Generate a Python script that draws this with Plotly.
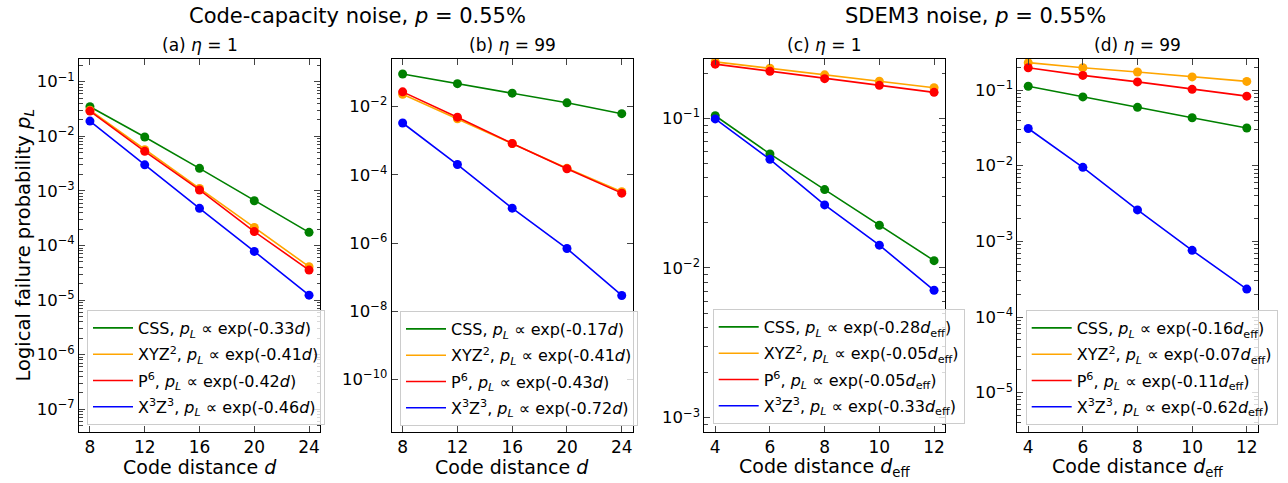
import numpy as np
import plotly.graph_objects as go

W, H = 1288, 483
FONT = "DejaVu Sans"

# ---------------- data ----------------
d_cc = [8, 12, 16, 20, 24]
d_eff = [4, 6, 8, 10, 12]

# (a) code-capacity, eta = 1
a_css = [0.0348, 0.0097, 0.00259, 6.6e-4, 1.74e-4]
a_xyz2 = [0.030, 0.0057, 0.00111, 2.14e-4, 4.1e-5]
a_p6 = [0.029, 0.0053, 0.00104, 1.8e-4, 3.55e-5]
a_x3z3 = [0.019, 0.0030, 4.8e-4, 7.8e-5, 1.23e-5]

# (b) code-capacity, eta = 99
b_css = [0.090, 0.047, 0.0247, 0.0129, 0.0062]
b_xyz2 = [0.023, 0.0044, 8.3e-4, 1.55e-4, 3.2e-5]
b_p6 = [0.027, 0.0049, 8.3e-4, 1.5e-4, 2.9e-5]
b_x3z3 = [0.0033, 2.0e-4, 1.05e-5, 6.9e-7, 2.9e-8]

# (c) SDEM3, eta = 1
c_css = [0.104, 0.0578, 0.0334, 0.0193, 0.0112]
c_xyz2 = [0.238, 0.216, 0.195, 0.177, 0.160]
c_p6 = [0.230, 0.206, 0.184, 0.166, 0.149]
c_x3z3 = [0.099, 0.0532, 0.0264, 0.0142, 0.0071]

# (d) SDEM3, eta = 99
d_css = [0.112, 0.081, 0.059, 0.043, 0.0315]
d_xyz2 = [0.230, 0.197, 0.173, 0.149, 0.130]
d_p6 = [0.197, 0.156, 0.128, 0.102, 0.083]
d_x3z3 = [0.031, 0.0095, 0.0026, 7.6e-4, 2.34e-4]

code_names = ["CSS", "XYZ<sup>2</sup>", "P<sup>6</sup>", "X<sup>3</sup>Z<sup>3</sup>"]
colors = ["green", "orange", "red", "blue"]

a_rates = ["-0.33", "-0.41", "-0.42", "-0.46"]
b_rates = ["-0.17", "-0.41", "-0.43", "-0.72"]
c_rates = ["-0.28", "-0.05", "-0.05", "-0.33"]
d_rates = ["-0.16", "-0.07", "-0.11", "-0.62"]

panel_titles = ["(a) <i>η</i> = 1", "(b) <i>η</i> = 99", "(c) <i>η</i> = 1", "(d) <i>η</i> = 99"]
sup_titles = ["Code-capacity noise, <i>p</i> = 0.55%", "SDEM3 noise, <i>p</i> = 0.55%"]
x_titles = ["Code distance <i>d</i>", "Code distance <i>d</i>",
            "Code distance <i>d</i><sub>eff</sub>", "Code distance <i>d</i><sub>eff</sub>"]
y_title = "Logical failure probability <i>p</i><sub><i>L</i></sub>"

# ---------------- layout geometry (pixels) ----------------
x_px = [(79, 320), (391.7, 632.7), (704.3, 945), (1017.3, 1257.7)]
y_px = (59, 432)
y_log_ranges = [(-7.416, -0.584), (-11.54, -0.605), (-3.0955, -0.604), (-5.52, -0.59)]
x_ranges = [(7.2, 24.8), (7.2, 24.8), (3.6, 12.4), (3.6, 12.4)]
y_major = [list(range(-7, 0)), list(range(-10, -1, 2)), [-3, -2, -1], list(range(-5, 0))]
legend_px = [(87, 310), (400, 311), (712.7, 309), (1025.7, 310)]

panels = [
    (d_cc, [a_css, a_xyz2, a_p6, a_x3z3], a_rates, "<i>d</i>"),
    (d_cc, [b_css, b_xyz2, b_p6, b_x3z3], b_rates, "<i>d</i>"),
    (d_eff, [c_css, c_xyz2, c_p6, c_x3z3], c_rates, "<i>d</i><sub>eff</sub>"),
    (d_eff, [d_css, d_xyz2, d_p6, d_x3z3], d_rates, "<i>d</i><sub>eff</sub>"),
]

fig = go.Figure()


def sup(e):
    return "10<sup>\u2212%d</sup>" % (-e) if e < 0 else "10<sup>%d</sup>" % e


for i, (xs, series, rates, dsym) in enumerate(panels):
    k = "" if i == 0 else str(i + 1)
    xa, ya = "x" + k, "y" + k
    leg = "legend" + k
    for j, ys in enumerate(series):
        grp = "p%d_s%d" % (i, j)
        name = "%s, <i>p</i><sub><i>L</i></sub> \u221d exp(%s%s)" % (code_names[j], rates[j], dsym)
        fig.add_trace(go.Scatter(x=xs, y=ys, mode="lines", name=name, legendgroup=grp,
                                 line=dict(color=colors[j], width=1.6),
                                 xaxis=xa, yaxis=ya, legend=leg))
        fig.add_trace(go.Scatter(x=xs, y=ys, mode="markers", showlegend=False, legendgroup=grp,
                                 marker=dict(color=colors[j], size=9),
                                 xaxis=xa, yaxis=ya, legend=leg))

layout = dict(
    width=W, height=H, margin=dict(l=0, r=0, t=0, b=0),
    paper_bgcolor="white", plot_bgcolor="white", showlegend=True,
    font=dict(family=FONT, color="black", size=16),
)

annotations = []
for i in range(4):
    k = "" if i == 0 else str(i + 1)
    x0, x1 = x_px[i]
    dom_x = [x0 / W, x1 / W]
    dom_y = [1 - y_px[1] / H, 1 - y_px[0] / H]
    lo, hi = y_log_ranges[i]
    majors = y_major[i]
    minors = []
    if i != 1:
        for e in range(int(np.floor(lo)), int(np.ceil(hi)) + 1):
            for m in range(2, 10):
                v = np.log10(m) + e
                if lo <= v <= hi:
                    minors.append(10 ** v)
    layout["xaxis" + k] = dict(
        domain=dom_x, range=list(x_ranges[i]), anchor="y" + k,
        tickvals=panels[i][0], ticks="inside", ticklen=6, tickwidth=1,
        showline=True, linecolor="black", linewidth=1, mirror="ticks",
        showgrid=False, zeroline=False, tickfont=dict(size=17),
    )
    layout["yaxis" + k] = dict(
        domain=dom_y, type="log", range=[lo, hi], anchor="x" + k,
        tickvals=[10 ** e for e in majors], ticktext=[sup(e) for e in majors],
        ticks="inside", ticklen=6, tickwidth=1,
        showline=True, linecolor="black", linewidth=1, mirror="ticks",
        showgrid=False, zeroline=False, tickfont=dict(size=16.5),
        minor=dict(tickmode="array", tickvals=minors, ticks="inside", ticklen=3.5,
                   tickwidth=0.8, showgrid=False) if minors else None,
    )
    lx, ly = legend_px[i]
    layout["legend" + k] = dict(
        x=lx / W, y=1 - ly / H, xanchor="left", yanchor="top",
        xref="paper", yref="paper",
        bgcolor="rgba(255,255,255,0.8)", bordercolor="#cccccc", borderwidth=1,
        font=dict(family=FONT, size=16, color="black"),
        tracegroupgap=2.5, itemwidth=40,
    )
    annotations.append(dict(text=panel_titles[i], x=(x0 + x1) / 2 / W, y=1 - 45 / H,
                            xref="paper", yref="paper", showarrow=False,
                            xanchor="center", yanchor="middle", font=dict(size=17)))
    annotations.append(dict(text=x_titles[i], x=(x0 + x1) / 2 / W, y=1 - 467 / H,
                            xref="paper", yref="paper", showarrow=False,
                            xanchor="center", yanchor="middle", font=dict(size=19)))

annotations.append(dict(text=sup_titles[0], x=357 / W, y=1 - 16 / H, xref="paper", yref="paper",
                        showarrow=False, xanchor="center", yanchor="middle", font=dict(size=21)))
annotations.append(dict(text=sup_titles[1], x=975 / W, y=1 - 16 / H, xref="paper", yref="paper",
                        showarrow=False, xanchor="center", yanchor="middle", font=dict(size=21)))
annotations.append(dict(text=y_title, x=24 / W, y=(1 - (y_px[0] + y_px[1]) / 2 / H),
                        xref="paper", yref="paper", showarrow=False, textangle=-90,
                        xanchor="center", yanchor="middle", font=dict(size=19.5)))
layout["annotations"] = annotations

fig.update_layout(**layout)
fig.write_html("out.html")
